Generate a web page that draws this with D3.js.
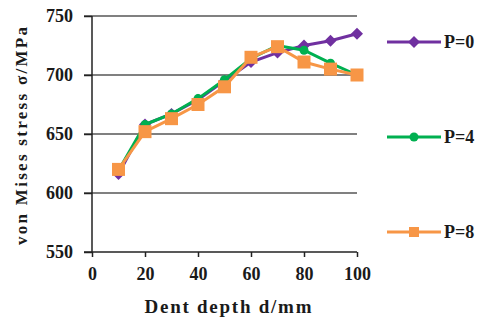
<!DOCTYPE html>
<html><head><meta charset="utf-8">
<script src="https://cdn.jsdelivr.net/npm/d3@7"></script>
<style>body{margin:0;background:#fff;}svg{display:block;}</style>
</head><body>
<script>
const depths = [10,20,30,40,50,60,70,80,90,100];
const p0 = [616,658,667,679,695,711,719,725,729,735];
const p4 = [619,658,667,680,696,714,725,721,710,700];
const p8 = [620,652,663,675,690,715,724,711,705,700];
const seriesNames = ["P=0","P=4","P=8"];
const colors = ["#7030a0","#00b050","#f79646"];
const xTicks = [0,20,40,60,80,100];
const yTicks = [550,600,650,700,750];

const W=483,H=322;
const svg=d3.select("body").append("svg").attr("width",W).attr("height",H);
const x=d3.scaleLinear().domain([0,100]).range([92,357]);
const y=d3.scaleLinear().domain([550,750]).range([252,16]);
const font="'Liberation Serif','Times New Roman',serif";

svg.append("g").selectAll("line").data(yTicks.slice(1)).join("line")
  .attr("x1",84).attr("x2",357).attr("y1",d=>y(d)).attr("y2",d=>y(d))
  .attr("stroke","#808080").attr("stroke-width",2);
const ya=svg.append("g").attr("transform","translate(92,0)")
  .call(d3.axisLeft(y).tickValues(yTicks).tickSize(8).tickPadding(11));
ya.select(".domain").attr("stroke","#222").attr("stroke-width",1.5).attr("d","M0,16V252");
ya.selectAll(".tick line").attr("stroke","#222").attr("stroke-width",1.5);
ya.selectAll("text").attr("font-family",font).attr("font-weight","bold").attr("font-size",18).attr("fill","#1a1a1a");
const xa=svg.append("g").attr("transform","translate(0,252)")
  .call(d3.axisBottom(x).tickValues(xTicks).tickSize(5).tickPadding(10));
xa.select(".domain").attr("stroke","#222").attr("stroke-width",1.5).attr("d","M84,0H357");
xa.selectAll(".tick line").attr("stroke","#222").attr("stroke-width",1.5);
xa.selectAll("text").attr("font-family",font).attr("font-weight","bold").attr("font-size",18).attr("fill","#1a1a1a");

svg.append("text").attr("x",228).attr("y",313).attr("text-anchor","middle")
  .attr("font-family",font).attr("font-weight","bold").attr("font-size",19)
  .attr("textLength",167).attr("lengthAdjust","spacing").attr("fill","#1a1a1a").text("Dent depth d/mm");
svg.append("text").attr("transform","translate(27,136) rotate(-90)").attr("text-anchor","middle")
  .attr("font-family",font).attr("font-weight","bold").attr("font-size",17)
  .attr("textLength",218).attr("lengthAdjust","spacing").attr("fill","#1a1a1a").text("von Mises stress σ/MPa");

const data=[p0,p4,p8];
const line=d3.line().x((d,i)=>x(depths[i])).y(d=>y(d));
function marker(g,k,cx,cy,c){
  if(k===0){ g.append("path").attr("d",`M${cx},${cy-6}L${cx+6},${cy}L${cx},${cy+6}L${cx-6},${cy}Z`).attr("fill",c); }
  else if(k===1){ g.append("circle").attr("cx",cx).attr("cy",cy).attr("r",4.5).attr("fill",c); }
  else { g.append("rect").attr("x",cx-6.5).attr("y",cy-6.5).attr("width",13).attr("height",13).attr("fill",c); }
}
data.forEach((s,k)=>{
  const g=svg.append("g");
  g.append("path").attr("d",line(s)).attr("fill","none").attr("stroke",colors[k]).attr("stroke-width",3);
  s.forEach((v,i)=>marker(g,k,x(depths[i]),y(v),colors[k]));
});
const ly=[42,137,232];
seriesNames.forEach((n,k)=>{
  const g=svg.append("g");
  g.append("line").attr("x1",387).attr("x2",441).attr("y1",ly[k]).attr("y2",ly[k]).attr("stroke",colors[k]).attr("stroke-width",3);
  if(k===0) marker(g,0,414,ly[k],colors[k]);
  else if(k===1) marker(g,1,414,ly[k],colors[k]);
  else { g.append("rect").attr("x",409).attr("y",ly[k]-5).attr("width",10).attr("height",10).attr("fill",colors[k]); }
  g.append("text").attr("x",444).attr("y",ly[k]+6).attr("font-family",font).attr("font-weight","bold")
   .attr("font-size",18).attr("fill","#1a1a1a").text(n);
});
</script>
</body></html>
